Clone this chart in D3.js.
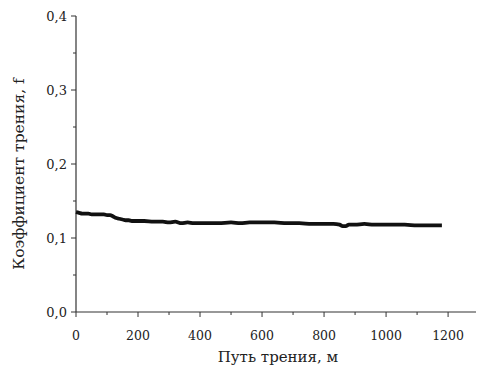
<!DOCTYPE html>
<html><head><meta charset="utf-8">
<script src="https://cdn.jsdelivr.net/npm/d3@7"></script>
<style>body{margin:0;background:#fff}svg{display:block}</style>
</head><body><svg id="c" width="478" height="369"></svg>
<script>
const distance = [0,10,20,30,40,50,60,70,80,90,100,110,120,130,140,150,160,170,180,200,220,250,280,300,320,340,360,380,400,430,460,500,530,560,600,640,680,720,760,800,830,850,860,870,880,900,930,960,1000,1030,1060,1100,1140,1180];
const friction = [0.135,0.134,0.133,0.133,0.133,0.132,0.132,0.132,0.132,0.132,0.131,0.131,0.129,0.127,0.126,0.125,0.124,0.124,0.123,0.123,0.123,0.122,0.122,0.121,0.122,0.120,0.121,0.120,0.120,0.120,0.120,0.121,0.120,0.121,0.121,0.121,0.120,0.120,0.119,0.119,0.119,0.118,0.116,0.116,0.118,0.118,0.119,0.118,0.118,0.118,0.118,0.117,0.117,0.117];
const xTicks = [0,200,400,600,800,1000,1200];
const yTicks = [0.0,0.1,0.2,0.3,0.4];
const xLabel = "Путь трения, м";
const yLabel = "Коэффициент трения, f";

const FONT = "'DejaVu Serif', serif";
const svg = d3.select("#c").attr("font-family", FONT);
const x = d3.scaleLinear().domain([0,1290]).range([76,476]);
const y = d3.scaleLinear().domain([0,0.4]).range([312,16]);
const fmt = d => d.toFixed(1).replace(".", ",");

const xg = svg.append("g").attr("transform","translate(0,312)");
xg.append("line").attr("x1",x(0)).attr("x2",x(1290)).attr("stroke","#333").attr("stroke-width",1.2);
xg.selectAll(".mj").data(xTicks).join("line").attr("x1",d=>x(d)).attr("x2",d=>x(d)).attr("y1",0).attr("y2",5).attr("stroke","#333");
xg.selectAll(".mn").data(d3.range(100,1300,200)).join("line").attr("x1",d=>x(d)).attr("x2",d=>x(d)).attr("y1",0).attr("y2",3).attr("stroke","#333");
xg.selectAll("text").data(xTicks).join("text").attr("x",d=>x(d)).attr("y",28).attr("text-anchor","middle").attr("font-size",12.5).attr("fill","#222").attr("font-family",FONT).text(d=>d);

const yg = svg.append("g").attr("transform","translate(76,0)");
yg.append("line").attr("y1",y(0)).attr("y2",y(0.4)).attr("stroke","#333").attr("stroke-width",1.2);
yg.selectAll(".mj").data(yTicks).join("line").attr("y1",d=>y(d)).attr("y2",d=>y(d)).attr("x1",0).attr("x2",-5).attr("stroke","#333");
yg.selectAll(".mn").data([0.05,0.15,0.25,0.35]).join("line").attr("y1",d=>y(d)).attr("y2",d=>y(d)).attr("x1",0).attr("x2",-3).attr("stroke","#333");
yg.selectAll("text").data(yTicks).join("text").attr("x",-9).attr("y",d=>y(d)+4.5).attr("text-anchor","end").attr("font-size",13).attr("fill","#222").attr("font-family",FONT).text(fmt);

const line = d3.line().x((d,i)=>x(distance[i])).y(d=>y(d)).curve(d3.curveMonotoneX);
svg.append("path").datum(friction).attr("d",line).attr("fill","none").attr("stroke","#111").attr("stroke-width",3.8).attr("stroke-linejoin","round");

svg.append("text").attr("x",278).attr("y",362).attr("text-anchor","middle").attr("font-size",15).attr("fill","#222").attr("font-family",FONT).text(xLabel);
svg.append("text").attr("transform","translate(24,174) rotate(-90)").attr("text-anchor","middle").attr("font-size",15.5).attr("fill","#222").attr("font-family",FONT).text(yLabel);
</script></body></html>
